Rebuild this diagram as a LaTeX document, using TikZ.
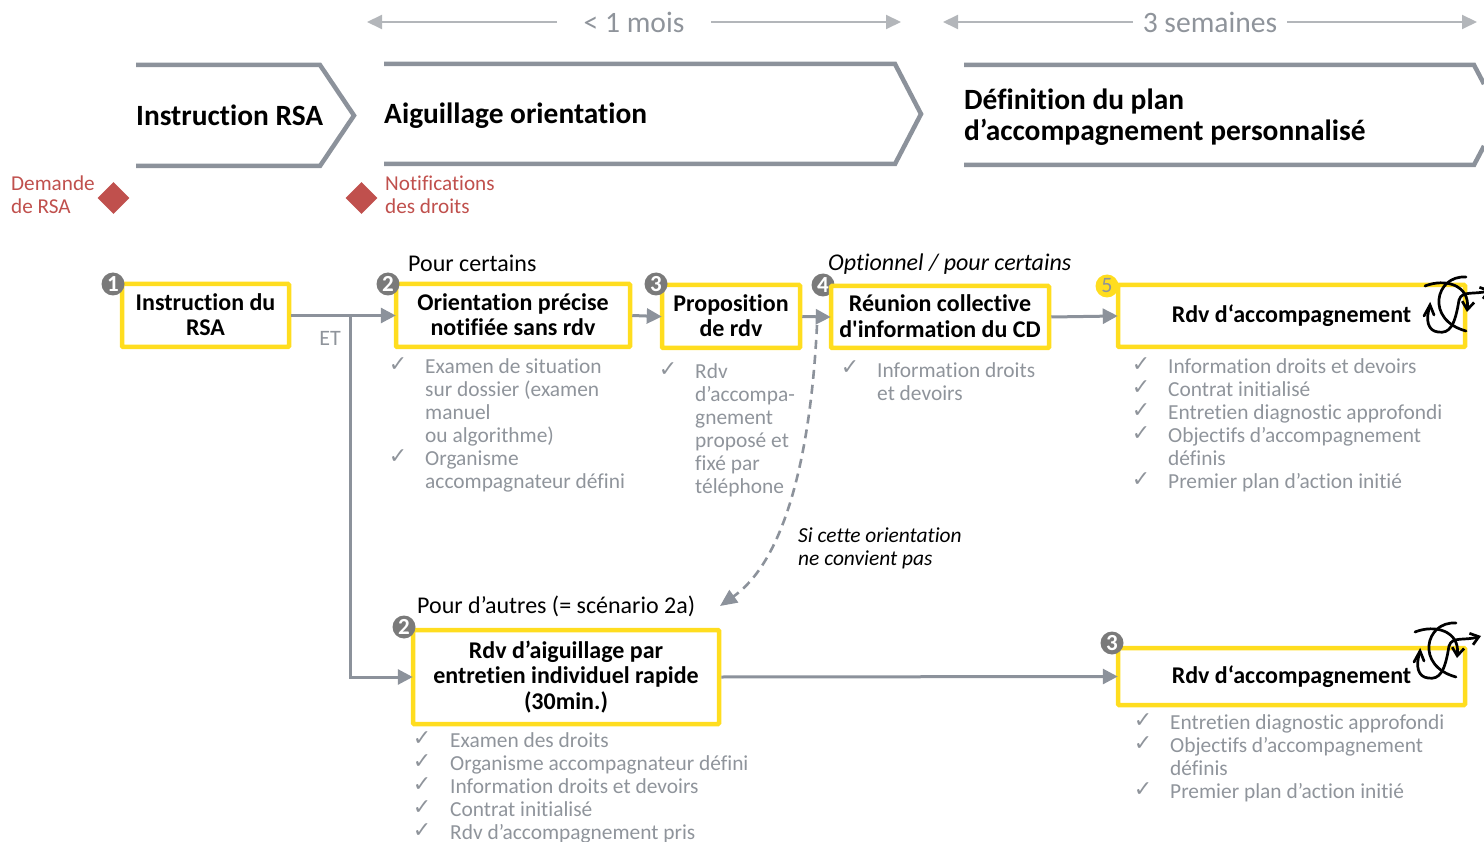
\documentclass[tikz,border=0pt]{standalone}
\usepackage{fontspec}
\setmainfont{Carlito}[Ligatures={TeX,NoCommon}]
\newfontfamily\rawq{Carlito}[Ligatures=NoCommon]
\newfontfamily\dejavu{DejaVu Sans}
\usetikzlibrary{arrows.meta,shapes.geometric}
\definecolor{ygold}{HTML}{FFDD1F}
\definecolor{gline}{HTML}{8C929B}
\definecolor{gtext}{HTML}{8F949B}
\definecolor{glight}{HTML}{B3B6BA}
\definecolor{numgray}{HTML}{7A7A7A}
\definecolor{redd}{HTML}{C0504D}
\newcommand{\fs}[1]{\fontsize{#1}{#1}\selectfont}
\tikzset{
 x=1pt,y=-1pt,
 stepbox/.style={draw=ygold,line width=4.5pt,rounded corners=1pt,fill=white,align=center,inner sep=0pt,font=\fs{24}\bfseries,text=black,execute at begin node={\baselineskip=25.5pt}},
 num/.style={circle,fill=numgray,text=white,font=\fs{23}\bfseries,minimum size=23pt,inner sep=0pt},
 flow/.style={draw=gline,line width=3pt,shorten >=-2pt,-{Triangle[length=15pt,width=15pt]}},
 span/.style={draw=glight,line width=2pt,-{Triangle[length=15pt,width=14pt]}},
 chev/.style={draw=gline,line width=4.5pt,miter limit=10},
 head/.style={font=\fs{29.4}\bfseries,text=black,anchor=west,inner sep=0pt,align=left,execute at begin node={\baselineskip=31pt}},
 spantxt/.style={font=\fs{29.6},text=gtext,inner sep=0pt},
 redtxt/.style={font=\fs{21.2},text=redd,anchor=north west,inner sep=0pt,align=left,execute at begin node={\baselineskip=23pt}},
 bul/.style={font=\fs{21.4},text=gtext,anchor=north west,inner sep=0pt,align=left,execute at begin node={\baselineskip=23pt}},
 tick/.style={font=\dejavu\fs{22},text=gtext,inner sep=0pt},
 lab/.style={font=\fs{24},text=black,anchor=west,inner sep=0pt},
 dia/.style={diamond,fill=redd,minimum size=32pt,inner sep=0pt},
 swirl/.style={draw=black,line width=2.7pt,line cap=round},
 swirlh/.style={swirl,-{Straight Barb[length=8pt,width=12pt]}},
}
\newcommand{\swirlat}[2]{%
 \begin{scope}[shift={(#1,#2)}]
 \draw[swirlh] (1425,286) .. controls (1445,278) and (1470,285) .. (1467,312);
 \draw[swirl] (1466,277) .. controls (1435,275) and (1425,320) .. (1466,331);
 \draw[swirlh] (1459,300) .. controls (1462,290) and (1475,295) .. (1491,290);
 \draw[swirl] (1459,300) .. controls (1455,325) and (1450,334) .. (1438,332) .. controls (1428,331) and (1425,320) .. (1430,306);
 \draw[swirl] (1424,316) -- (1430,305) -- (1434,315);
 \end{scope}}
\begin{document}
\begin{tikzpicture}
\useasboundingbox (0,0) rectangle (1484,842);
% top spans
\coordinate (s1a) at (557,22); \coordinate (s1b) at (367,22);
\coordinate (s2a) at (711,22); \coordinate (s2b) at (901,22);
\coordinate (s3a) at (1133,22); \coordinate (s3b) at (943,22);
\coordinate (s4a) at (1287,22); \coordinate (s4b) at (1477,22);
\draw[span] (s1a) -- (s1b); \draw[span] (s2a) -- (s2b);
\draw[span] (s3a) -- (s3b); \draw[span] (s4a) -- (s4b);
\node[spantxt] (t1) at (634,22) {< 1 mois};
\node[spantxt] (t2) at (1210,22) {3 semaines};
% chevrons
\draw[chev] (136,65) -- (320,65) -- (354,115.5) -- (320,166) -- (136,166);
\draw[chev] (384,64) -- (895,64) -- (921,114) -- (895,164) -- (384,164);
\draw[chev] (964,65) -- (1474,65) -- (1484,84);
\draw[chev] (964,165) -- (1474,165) -- (1484,146);
\node[head] (h1) at (136,115) {Instruction RSA};
\node[head] (h2) at (384,116) {Aiguillage orientation};
\node[head] (h3) at (964,117) {Définition du plan\\d’accompagnement personnalisé};
% red milestones
\node[dia] (d1) at (113.5,198) {};
\node[dia] (d2) at (361.5,198) {};
\node[redtxt] (r1) at (11,176) {Demande\\de RSA};
\node[redtxt] (r2) at (385,176) {Notifications\\des droits};
% step boxes
\node[num] (n4) at (823,285) {4};
\node[stepbox,text depth=2pt,minimum width=167pt,minimum height=63pt] (b1) at (205.5,315.5) {Instruction du\\RSA};
\node[stepbox,text depth=2pt,minimum width=234pt,minimum height=63pt] (b2) at (513,315.5) {Orientation précise\\notifiée sans rdv};
\node[stepbox,text depth=2pt,minimum width=138pt,minimum height=63pt] (b3) at (731,316.5) {Proposition\\de rdv};
\node[stepbox,text depth=2pt,minimum width=218pt,minimum height=62pt] (b4) at (940,317) {Réunion collective\\{\rawq d'}information du CD};
\node[stepbox,minimum width=347pt,minimum height=62pt] (b5) at (1291.5,316) {Rdv d‘accompagnement};
\node[stepbox,minimum width=306pt,minimum height=94pt] (b6) at (566,677) {Rdv d’aiguillage par\\entretien individuel rapide\\(30min.)};
\node[stepbox,minimum width=347pt,minimum height=57pt] (b7) at (1291.5,676.5) {Rdv d‘accompagnement};
% numbers
\node[num] (n1) at (113,284) {1};
\node[num] (n2) at (388,284) {2};
\node[num] (n3) at (656,284) {3};
\node[num,fill=ygold,text=gtext,font=\fs{22},minimum size=23pt] (n5) at (1107,286) {5};
\node[num] (n6) at (404,627) {2};
\node[num] (n7) at (1112,643) {3};
% connectors
\coordinate (et) at (350,316);
\draw[flow] (b1.east) -- (b2.west);
\draw[flow] (et) |- (b6.west);
\draw[flow] (b2.east) -- (b3.west);
\draw[flow] (b3.east) -- (b4.west);
\draw[flow] (b4.east) -- (b5.west);
\draw[flow] (b6.east) -- (b7.west);
\coordinate (ds) at (817,325); \coordinate (de) at (720,606);
\draw[draw=gline,line width=2.6pt,dash pattern=on 9pt off 6pt,-{Triangle[length=17pt,width=15pt]}] (ds) .. controls (812,430) and (792,555) .. (de);
\node[font=\fs{22},text=gtext,inner sep=0pt] (et1) at (330,338) {ET};
% labels
\node[lab] (l1) at (408,263) {Pour certains};
\node[lab] (l2) at (417,606.5) {Pour d’autres (= scénario 2a)};
\node[lab,font=\fs{24}\itshape] (l3) at (828,264.5) {Optionnel / pour certains};
\node[anchor=north west,inner sep=0pt,align=left,font=\fs{21.4}\itshape,text=black,execute at begin node={\baselineskip=23pt}] (l4) at (798,527.5) {Si cette orientation\\ne convient pas};
% bullets
\node[bul] (g1) at (425,358.5) {Examen de situation\\sur dossier (examen\\manuel\\ou algorithme)\\Organisme\\accompagnateur défini};
\node[tick] (k1) at (398,365) {✓}; \node[tick] (k2) at (398,457) {✓};
\node[bul] (g2) at (695,363.5) {Rdv\\d’accompa-\\gnement\\proposé et\\fixé par\\téléphone};
\node[tick] (k3) at (668,370) {✓};
\node[bul] (g3) at (877,362.5) {Information droits\\et devoirs};
\node[tick] (k4) at (850,368) {✓};
\node[bul] (g4) at (1168,358.5) {Information droits et devoirs\\Contrat initialisé\\Entretien diagnostic approfondi\\Objectifs d’accompagnement\\définis\\Premier plan d’action initié};
\node[tick] (k5) at (1141,365) {✓}; \node[tick] (k6) at (1141,388) {✓}; \node[tick] (k7) at (1141,411) {✓}; \node[tick] (k8) at (1141,434) {✓}; \node[tick] (k9) at (1141,480) {✓};
\node[bul] (g5) at (450,732.5) {Examen des droits\\Organisme accompagnateur défini\\Information droits et devoirs\\Contrat initialisé\\Rdv d’accompagnement pris};
\node[tick] (k10) at (422,739) {✓}; \node[tick] (k11) at (422,762) {✓}; \node[tick] (k12) at (422,785) {✓}; \node[tick] (k13) at (422,808) {✓}; \node[tick] (k14) at (422,831) {✓};
\node[bul] (g6) at (1170,714.5) {Entretien diagnostic approfondi\\Objectifs d’accompagnement\\définis\\Premier plan d’action initié};
\node[tick] (k15) at (1143,721) {✓}; \node[tick] (k16) at (1143,744) {✓}; \node[tick] (k17) at (1143,790) {✓};
% swirls
\swirlat{0}{0}
\swirlat{-10}{346}
\end{tikzpicture}
\end{document}
